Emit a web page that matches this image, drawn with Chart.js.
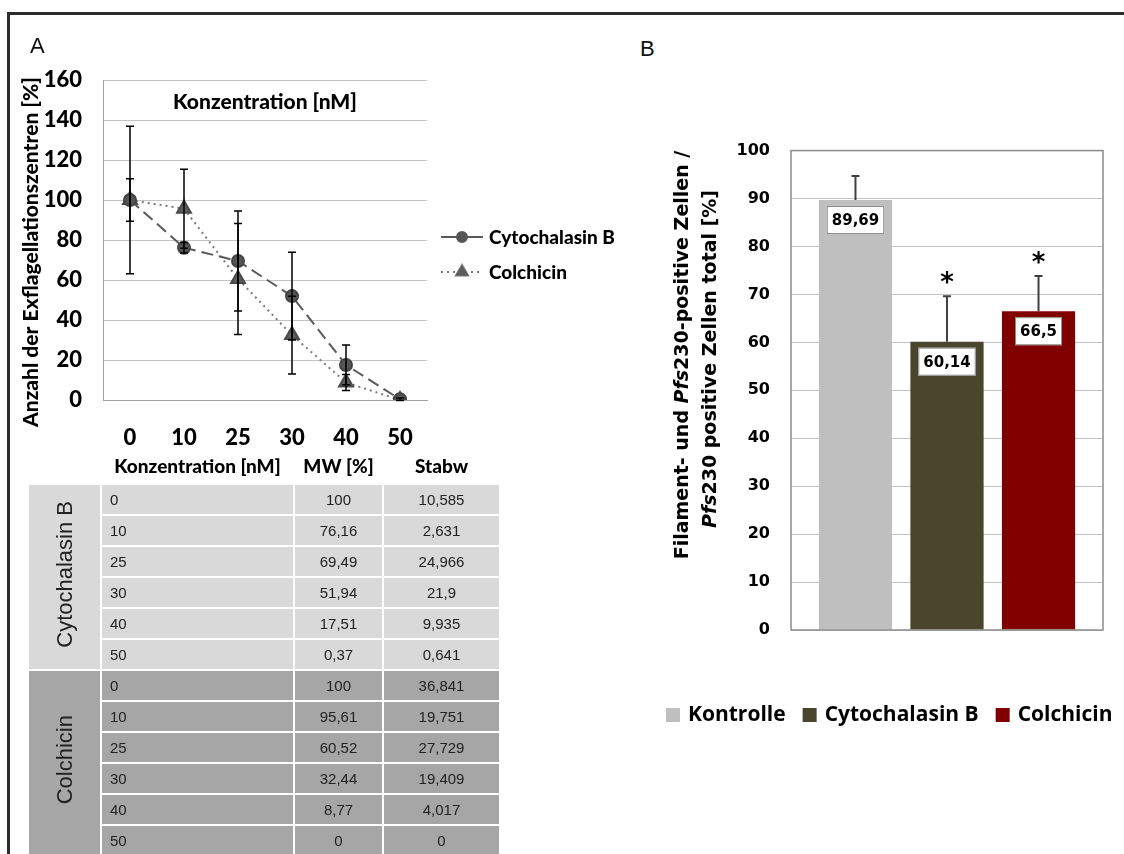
<!DOCTYPE html>
<html>
<head>
<meta charset="utf-8">
<script src="https://cdn.jsdelivr.net/npm/chart.js@4.4.1/dist/chart.umd.min.js"></script>
<style>
body { margin: 0; width: 1124px; height: 854px; overflow: hidden; background: #fff; position: relative; }
#frame { position: absolute; left: 7px; top: 12px; width: 1300px; height: 1000px; border-top: 3px solid #2c2c2c; border-left: 3px solid #2c2c2c; }
.panel { position: absolute; font-family: "Liberation Sans", Arial, sans-serif; font-size: 22px; color: #111; }
#canvasA { position: absolute; left: 0; top: 0; }
#canvasB { position: absolute; left: 640px; top: 120px; }
#tableA { position: absolute; left: 27px; top: 447px; border-collapse: collapse; font-family: "Liberation Sans", Arial, sans-serif; font-size: 15px; color: #222; }
#tableA td { border: 2px solid #fff; padding: 0; height: 29px; }
#tableA th { font-family: Lato, sans-serif; font-weight: 900; font-size: 19px; color: #000; height: 36px; padding: 0; }
#tableA .num { text-align: center; }
#tableA .conc { padding-left: 8px; }
#tableA .group { font-size: 22px; text-align: center; }
#tableA .group span { display: inline-block; writing-mode: vertical-rl; transform: rotate(180deg); }
</style>
</head>
<body>
<div id="frame"></div>
<canvas id="canvasA" width="640" height="460"></canvas>
<div class="panel" style="left:30px; top:33px;">A</div>
<div class="panel" style="left:640px; top:36px;">B</div>
<table id="tableA">
  <thead>
    <tr>
      <th style="width:73px"></th>
      <th style="width:193px">Konzentration [nM]</th>
      <th style="width:89px">MW [%]</th>
      <th style="width:117px">Stabw</th>
    </tr>
  </thead>
  <tbody></tbody>
</table>
<canvas id="canvasB" width="484" height="640"></canvas>
<script>
// ---- panel A data
var concLabels = ["0", "10", "25", "30", "40", "50"];
var cytoMean = [100, 76.16, 69.49, 51.94, 17.51, 0.37];
var cytoSd = [10.585, 2.631, 24.966, 21.9, 9.935, 0.641];
var colchMean = [100, 95.61, 60.52, 32.44, 8.77, 0];
var colchSd = [36.841, 19.751, 27.729, 19.409, 4.017, 0];

// ---- panel B data
var groupsB = ["Kontrolle", "Cytochalasin B", "Colchicin"];
var valuesB = [89.69, 60.14, 66.5];
var errorsB = [5.0, 9.5, 7.35];
var starsB = ["", "*", "*"];
var colorsB = ["#bfbfbf", "#4a452d", "#800000"];

var go = {};

// german decimal comma
function fmt(v)
{
    return String(v).replace(".", ",");
}

// rotated text made of [text, italic] parts, centered on cx, cy
function drawSegments(ctx, parts, cx, cy, font)
{
    var total = 0;
    for (var i = 0; i < parts.length; ++i)
    {
        ctx.font = (parts[i][1] ? "italic " : "") + font;
        total += ctx.measureText(parts[i][0]).width;
    }
    ctx.save();
    ctx.translate(cx, cy);
    ctx.rotate(-Math.PI / 2);
    ctx.textBaseline = "middle";
    ctx.textAlign = "left";
    var x = -total / 2;
    for (var j = 0; j < parts.length; ++j)
    {
        ctx.font = (parts[j][1] ? "italic " : "") + font;
        ctx.fillText(parts[j][0], x, 0);
        x += ctx.measureText(parts[j][0]).width;
    }
    ctx.restore();
}

//============================================================= table under chart A
function buildTable()
{
    var tbody = document.getElementById("tableA").tBodies[0];
    var groups = [
        { name: "Cytochalasin B", mean: cytoMean, sd: cytoSd, bg: "#d9d9d9" },
        { name: "Colchicin", mean: colchMean, sd: colchSd, bg: "#a6a6a6" }
    ];
    for (var g = 0; g < groups.length; ++g)
    {
        var grp = groups[g];
        for (var i = 0; i < concLabels.length; ++i)
        {
            var tr = document.createElement("tr");
            tr.style.background = grp.bg;
            if (i === 0)
            {
                var tdG = document.createElement("td");
                tdG.className = "group";
                tdG.rowSpan = concLabels.length;
                tdG.innerHTML = "<span>" + grp.name + "</span>";
                tr.appendChild(tdG);
            }
            var cells = [concLabels[i], fmt(grp.mean[i]), fmt(grp.sd[i])];
            for (var c = 0; c < cells.length; ++c)
            {
                var td = document.createElement("td");
                td.className = c === 0 ? "conc" : "num";
                td.textContent = cells[c];
                tr.appendChild(td);
            }
            tbody.appendChild(tr);
        }
    }
}

//============================================================= chart A plugin
var plotA = {
    id: "plotA",
    afterDatasetsDraw: function (chart)
    {
        var ctx = chart.ctx;
        var y = chart.scales.y;
        var sds = [cytoSd, colchSd];
        ctx.save();
        ctx.strokeStyle = "#000";
        ctx.lineWidth = 1.5;
        for (var d = 0; d < chart.data.datasets.length; ++d)
        {
            var meta = chart.getDatasetMeta(d);
            var data = chart.data.datasets[d].data;
            for (var i = 0; i < data.length; ++i)
            {
                if (!sds[d][i]) continue;
                var x = meta.data[i].x;
                var top = y.getPixelForValue(data[i] + sds[d][i]);
                var bot = y.getPixelForValue(data[i] - sds[d][i]);
                ctx.beginPath();
                ctx.moveTo(x, top); ctx.lineTo(x, bot);
                ctx.moveTo(x - 4, top); ctx.lineTo(x + 4, top);
                ctx.moveTo(x - 4, bot); ctx.lineTo(x + 4, bot);
                ctx.stroke();
            }
        }
        ctx.restore();
    },
    afterDraw: function (chart)
    {
        var ctx = chart.ctx;
        var area = chart.chartArea;
        ctx.save();
        ctx.fillStyle = "#000";
        ctx.font = "900 21px Lato";
        ctx.textAlign = "center";
        ctx.textBaseline = "middle";
        ctx.fillText("Konzentration [nM]", (area.left + area.right) / 2, area.top + 22);

        // y axis title
        drawSegments(ctx, [["Anzahl der Exflagellationszentren [%]", false]], 31, 252, "900 21px Lato");

        // legend at right
        ctx.textAlign = "left";
        ctx.textBaseline = "middle";
        ctx.font = "900 19px Lato";
        var ys = [237, 272];
        for (var d = 0; d < chart.data.datasets.length; ++d)
        {
            var ds = chart.data.datasets[d];
            ctx.strokeStyle = ds.borderColor;
            ctx.lineWidth = 2;
            ctx.setLineDash(d === 0 ? [] : [2, 4]);
            ctx.beginPath();
            ctx.moveTo(441, ys[d]); ctx.lineTo(483, ys[d]);
            ctx.stroke();
            ctx.setLineDash([]);
            Chart.helpers.drawPoint(ctx, {
                pointStyle: ds.pointStyle, radius: ds.pointRadius - 1, borderWidth: 1
            }, 462, ys[d]);
            ctx.fillStyle = ds.pointBackgroundColor;
            ctx.fill();
            ctx.fillStyle = "#000";
            ctx.fillText(ds.label, 489, ys[d] + 1);
        }
        ctx.restore();
    }
};

function drawChartA()
{
    var tickFont = { family: "Lato", weight: 900, size: 22 };
    var config = {
        type: "line",
        data: {
            labels: concLabels,
            datasets: [
                {
                    label: "Cytochalasin B",
                    data: cytoMean,
                    borderColor: "#5a5a5a",
                    borderWidth: 2,
                    borderDash: [12, 6],
                    pointStyle: "circle",
                    pointRadius: 6,
                    pointBackgroundColor: "#555",
                    pointBorderColor: "#444",
                    tension: 0
                },
                {
                    label: "Colchicin",
                    data: colchMean,
                    borderColor: "#7a7a7a",
                    borderWidth: 2,
                    borderDash: [2, 4],
                    pointStyle: "triangle",
                    pointRadius: 8,
                    pointBackgroundColor: "#5c5c5c",
                    pointBorderColor: "#4a4a4a",
                    tension: 0
                }
            ]
        },
        options: {
            responsive: false,
            animation: false,
            layout: { padding: { top: 80, right: 213, left: 0, bottom: 0 } },
            plugins: { legend: { display: false }, tooltip: { enabled: false } },
            scales: {
                x: {
                    offset: true,
                    grid: { display: false, drawTicks: false },
                    border: { color: "#a0a0a0" },
                    ticks: { padding: 25, color: "#000", font: tickFont },
                    afterFit: function (s) { s.height = 60; }
                },
                y: {
                    min: 0,
                    max: 160,
                    ticks: { stepSize: 20, padding: 21, color: "#000", font: tickFont },
                    grid: { color: "#c4c4c4", drawTicks: false },
                    border: { color: "#a0a0a0" },
                    afterFit: function (s) { s.width = 103; }
                }
            }
        },
        plugins: [plotA]
    };
    go.chartA = new Chart(document.getElementById("canvasA").getContext("2d"), config);
}

//============================================================= chart B plugin
var plotB = {
    id: "plotB",
    afterDatasetsDraw: function (chart)
    {
        var ctx = chart.ctx;
        var y = chart.scales.y;
        ctx.save();
        for (var d = 0; d < chart.data.datasets.length; ++d)
        {
            var bar = chart.getDatasetMeta(d).data[0];
            var v = valuesB[d];
            // error bar, upward only
            var top = y.getPixelForValue(v + errorsB[d]);
            ctx.strokeStyle = "#404040";
            ctx.lineWidth = 2;
            ctx.beginPath();
            ctx.moveTo(bar.x, bar.y); ctx.lineTo(bar.x, top);
            ctx.moveTo(bar.x - 4, top); ctx.lineTo(bar.x + 4, top);
            ctx.stroke();
            // significance star
            if (starsB[d])
            {
                ctx.fillStyle = "#000";
                ctx.font = "bold 26px 'DejaVu Sans'";
                ctx.textAlign = "center";
                ctx.textBaseline = "middle";
                ctx.fillText(starsB[d], bar.x, top - 12);
            }
            // value label box
            ctx.font = "bold 15px 'DejaVu Sans'";
            var txt = fmt(v);
            var w = ctx.measureText(txt).width + 10;
            var h = 28;
            var cy = bar.y + 20;
            ctx.fillStyle = "#fff";
            ctx.fillRect(bar.x - w / 2, cy - h / 2, w, h);
            ctx.strokeStyle = "#8c8c8c";
            ctx.lineWidth = 1;
            ctx.strokeRect(bar.x - w / 2 + 0.5, cy - h / 2 + 0.5, w - 1, h - 1);
            ctx.fillStyle = "#000";
            ctx.textAlign = "center";
            ctx.textBaseline = "middle";
            ctx.fillText(txt, bar.x, cy + 1);
        }
        ctx.restore();
    },
    afterDraw: function (chart)
    {
        var ctx = chart.ctx;
        var a = chart.chartArea;
        ctx.save();
        ctx.strokeStyle = "#8c8c8c";
        ctx.lineWidth = 1.5;
        ctx.strokeRect(a.left, a.top, a.right - a.left, a.bottom - a.top);
        ctx.fillStyle = "#000";
        var titleFont = "bold 19px 'DejaVu Sans'";
        drawSegments(ctx, [["Filament- und ", false], ["Pfs", true], ["230-positive Zellen /", false]], 43, 235, titleFont);
        drawSegments(ctx, [["Pfs", true], ["230 positive Zellen total [%]", false]], 71, 239, titleFont);

        // legend below
        ctx.font = "bold 21px 'Open Sans'";
        ctx.textBaseline = "middle";
        ctx.textAlign = "left";
        var x = 26;
        var ly = 595;
        for (var d = 0; d < chart.data.datasets.length; ++d)
        {
            var ds = chart.data.datasets[d];
            ctx.fillStyle = ds.backgroundColor;
            ctx.fillRect(x, ly - 7, 14, 14);
            x += 22;
            ctx.fillStyle = "#000";
            ctx.fillText(ds.label, x, ly);
            x += ctx.measureText(ds.label).width + 17;
        }
        ctx.restore();
    }
};

function drawChartB()
{
    var datasets = [];
    for (var i = 0; i < groupsB.length; ++i)
    {
        datasets.push({
            label: groupsB[i],
            data: [valuesB[i]],
            backgroundColor: colorsB[i],
            categoryPercentage: 0.88,
            barPercentage: 0.8
        });
    }
    var config = {
        type: "bar",
        data: { labels: [""], datasets: datasets },
        options: {
            responsive: false,
            animation: false,
            layout: { padding: { top: 27, right: 21, left: 0, bottom: 130 } },
            plugins: { legend: { display: false }, tooltip: { enabled: false } },
            scales: {
                x: { display: false },
                y: {
                    min: 0,
                    max: 100,
                    ticks: { stepSize: 10, padding: 21, color: "#000", font: { family: "DejaVu Sans", weight: "bold", size: 16 } },
                    grid: { color: "#c4c4c4", drawTicks: false },
                    border: { display: false },
                    afterFit: function (s) { s.width = 151; }
                }
            }
        },
        plugins: [plotB]
    };
    go.chartB = new Chart(document.getElementById("canvasB").getContext("2d"), config);
}

buildTable();
drawChartA();
drawChartB();
</script>
</body>
</html>
